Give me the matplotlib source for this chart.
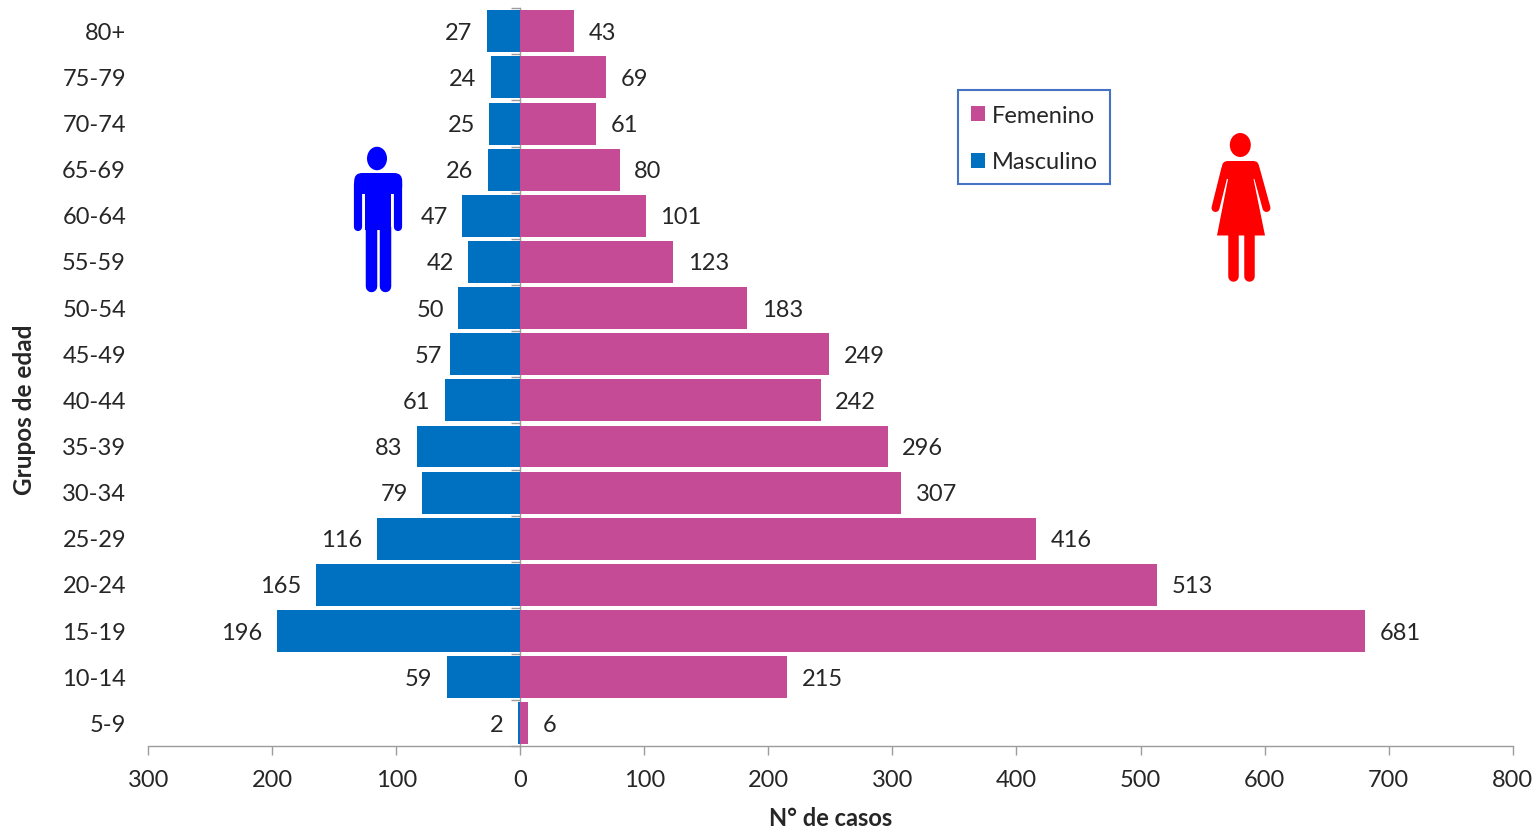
import matplotlib
matplotlib.use("Agg")
import matplotlib.pyplot as plt
from matplotlib.patches import Ellipse, Polygon, FancyBboxPatch, Rectangle

plt.rcParams["font.family"] = ["Lato", "DejaVu Sans"]

age_groups = ["5-9", "10-14", "15-19", "20-24", "25-29", "30-34", "35-39", "40-44",
              "45-49", "50-54", "55-59", "60-64", "65-69", "70-74", "75-79", "80+"]
male_cases = [2, 59, 196, 165, 116, 79, 83, 61, 57, 50, 42, 47, 26, 25, 24, 27]
female_cases = [6, 215, 681, 513, 416, 307, 296, 242, 249, 183, 123, 101, 80, 61, 69, 43]
x_ticks = [-300, -200, -100, 0, 100, 200, 300, 400, 500, 600, 700, 800]

W, H = 1534, 829
TEXT = "#262626"
GREY = "#9c9c9c"
BLUE = "#0070c0"
PINK = "#c54b97"
FS = 17
AX_LEFT, AX_TOP, AX_W, AX_H = 148.3, 9.2, 1364.3, 738.2

fig = plt.figure(figsize=(W / 100, H / 100), dpi=100)
ax = fig.add_axes([AX_LEFT / W, 1 - (AX_TOP + AX_H) / H, AX_W / W, AX_H / H])

positions = list(range(len(age_groups)))
male_bars = ax.barh(positions, [-v for v in male_cases], height=0.91, color=BLUE,
                    label="Masculino", zorder=3)
female_bars = ax.barh(positions, female_cases, height=0.91, color=PINK,
                      label="Femenino", zorder=3)

male_labels = ax.bar_label(male_bars, labels=[str(v) for v in male_cases], padding=10.5,
                           fontsize=FS, color=TEXT)
female_labels = ax.bar_label(female_bars, labels=[str(v) for v in female_cases], padding=10.5,
                             fontsize=FS, color=TEXT)
for label in list(male_labels) + list(female_labels):
    dx, dy = label.xyann
    label.xyann = (dx, dy - 0.7)
# The 45-49 male label sits closer to its bar than the others
dx, dy = male_labels[age_groups.index("45-49")].xyann
male_labels[age_groups.index("45-49")].xyann = (dx + 5, dy)

ax.set_xlim(-300, 800)
ax.set_ylim(-0.5, len(age_groups) - 0.5)
ax.set_xticks(x_ticks)
ax.set_xticklabels([str(abs(v)) for v in x_ticks], fontsize=FS, color=TEXT)
ax.set_yticks([p - 0.5 for p in positions] + [len(age_groups) - 0.5])
ax.set_yticklabels([])
ax.tick_params(axis="both", length=6.5, width=1.0, color=GREY, direction="out")
ax.tick_params(axis="x", pad=9.5)

for side in ("top", "right"):
    ax.spines[side].set_visible(False)
ax.spines["left"].set_position(("data", 0))
for side in ("left", "bottom"):
    ax.spines[side].set_color(GREY)
    ax.spines[side].set_linewidth(1.0)

# Age group names sit at the far left, away from the central axis
for p, name in zip(positions, age_groups):
    ax.annotate(name, xy=(-22.3 / AX_W, p), xycoords=ax.get_yaxis_transform(),
                xytext=(0, -0.7), textcoords="offset points", ha="right",
                va="center", fontsize=FS, color=TEXT)

ax.set_xlabel("N° de casos", fontsize=17, fontweight="bold", color=TEXT)
ax.xaxis.set_label_coords((830.5 - AX_LEFT) / AX_W, 1 - (807.5 - AX_TOP) / AX_H)
ax.set_ylabel("Grupos de edad", fontsize=17.5, fontweight="bold", color=TEXT)
ax.yaxis.set_label_coords((36 - AX_LEFT) / AX_W, 1 - (410 - AX_TOP) / AX_H)

handles, labels = ax.get_legend_handles_labels()
legend = ax.legend(handles[::-1], labels[::-1], loc="upper left",
                   bbox_to_anchor=((971 - AX_LEFT) / AX_W, 1 - (105.5 - AX_TOP) / AX_H),
                   borderaxespad=0, fontsize=FS, handlelength=0.6, handleheight=0.6,
                   handletextpad=0.28, labelspacing=1.1, borderpad=0, frameon=False,
                   labelcolor=TEXT)

# Pictograms for the two sexes and the legend box, in pixel coordinates on an overlay
overlay = fig.add_axes([0, 0, 1, 1], facecolor="none")
overlay.set_xlim(0, W)
overlay.set_ylim(H, 0)
overlay.axis("off")
overlay.add_patch(Rectangle((958, 90.5), 152, 94, fill=False, edgecolor="#4472c4", lw=1.5))


def limb(x0, y0, x1, y1, width, color):
    overlay.plot([x0, x1], [y0, y1], color=color, lw=width * 0.72, solid_capstyle="round")


man = "#0000ff"
overlay.add_patch(Ellipse((377, 159.5), 20, 23.5, color=man, lw=0))
overlay.add_patch(FancyBboxPatch((354.2, 174), 48, 21, boxstyle="round,pad=0,rounding_size=8",
                                 color=man, lw=0))
overlay.add_patch(Polygon([(365, 185), (391, 185), (391, 231), (365, 231)], color=man, lw=0))
limb(358.3, 185, 358.3, 228, 8.2, man)
limb(398.2, 185, 398.2, 228, 8.2, man)
limb(370.8, 228, 370.8, 286.5, 11.5, man)
limb(385.3, 228, 385.3, 286.5, 11.5, man)

woman = "#ff0000"
overlay.add_patch(Ellipse((1240.3, 146), 21, 24, color=woman, lw=0))
overlay.add_patch(FancyBboxPatch((1222, 162), 37, 18, boxstyle="round,pad=0,rounding_size=6",
                                 color=woman, lw=0))
overlay.add_patch(Polygon([(1230, 170), (1251.5, 170), (1265, 236.5), (1217, 236.5)],
                          color=woman, lw=0))
limb(1225.5, 169, 1215.5, 209, 8, woman)
limb(1255.5, 169, 1266.5, 209, 8, woman)
limb(1233, 234, 1233, 276.5, 10.5, woman)
limb(1248.9, 234, 1248.9, 276.5, 10.5, woman)

fig.savefig("out.png", dpi=100)
